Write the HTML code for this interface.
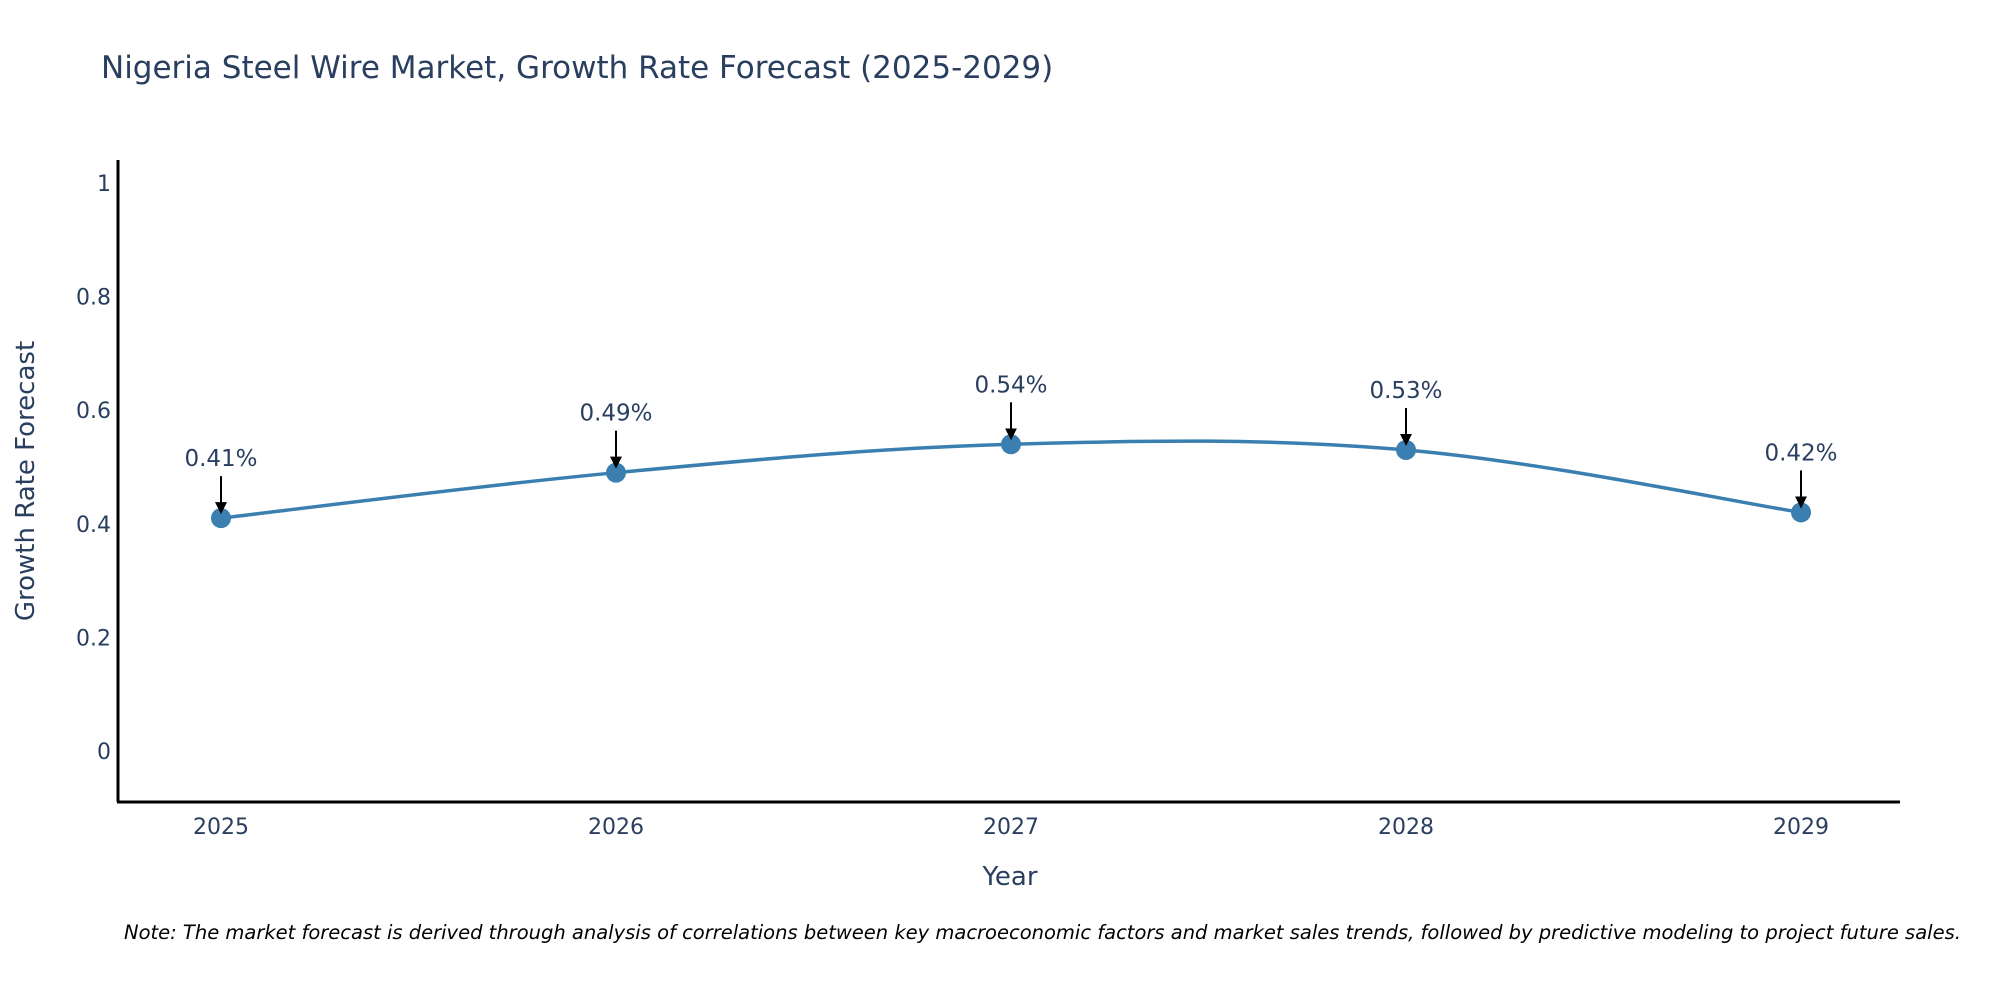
<!DOCTYPE html>
<html><head><meta charset="utf-8"><style>
html,body{margin:0;padding:0;background:#fff;}
svg text{font-family:"DejaVu Sans","Liberation Sans",sans-serif;}
</style></head><body>
<svg width="2000" height="1000" xmlns="http://www.w3.org/2000/svg">
<defs><marker id="ah" markerWidth="6" markerHeight="6" refX="5" refY="3" orient="auto" markerUnits="strokeWidth"><path d="M0,0 L6,3 L0,6 Z" fill="#000"/></marker></defs>
<text x="101" y="78" font-size="31" fill="#2a3f5f">Nigeria Steel Wire Market, Growth Rate Forecast (2025-2029)</text>
<g id="yticks"></g>
<g id="xticks"></g>
<line x1="118" y1="160" x2="118" y2="802" stroke="#000" stroke-width="3"/>
<line x1="117" y1="802" x2="1900" y2="802" stroke="#000" stroke-width="3"/>
<path id="line" fill="none" stroke="#3a7fb0" stroke-width="3.5"/>
<g id="marks"></g>
<g id="annos"></g>
<text x="1010" y="885" font-size="26" fill="#2a3f5f" text-anchor="middle">Year</text>
<text transform="translate(34,481) rotate(-90)" font-size="26" fill="#2a3f5f" text-anchor="middle">Growth Rate Forecast</text>
<text x="124" y="939" font-size="19.5" font-style="italic" fill="#000">Note: The market forecast is derived through analysis of correlations between key macroeconomic factors and market sales trends, followed by predictive modeling to project future sales.</text>
</svg>
<script>
const years = ["2025","2026","2027","2028","2029"];
const values = [0.41, 0.49, 0.54, 0.53, 0.42];
const labels = ["0.41%","0.49%","0.54%","0.53%","0.42%"];
const yTicks = [0, 0.2, 0.4, 0.6, 0.8, 1];
const yTickLabels = ["0","0.2","0.4","0.6","0.8","1"];
const NS="http://www.w3.org/2000/svg";
function xs(i){return 221+i*395;}
function ys(v){return 751-v*568;}
function mk(t,a,p){const e=document.createElementNS(NS,t);for(const k in a)e.setAttribute(k,a[k]);p.appendChild(e);return e;}
const yt=document.getElementById('yticks');
yTicks.forEach((v,i)=>{const t=mk('text',{x:111,y:ys(v)+8,'font-size':22,fill:'#2a3f5f','text-anchor':'end'},yt);t.textContent=yTickLabels[i];

});
const xt=document.getElementById('xticks');
years.forEach((y,i)=>{const t=mk('text',{x:xs(i),y:834,'font-size':22,fill:'#2a3f5f','text-anchor':'middle'},xt);t.textContent=y;

});
const pts=values.map((v,i)=>[xs(i),ys(v)]);
let d='M'+pts[0][0]+','+pts[0][1];
const s=0.35;
for(let i=0;i<pts.length-1;i++){
 const p0=pts[Math.max(0,i-1)],p1=pts[i],p2=pts[i+1],p3=pts[Math.min(pts.length-1,i+2)];
 const c1=[p1[0]+(p2[0]-p0[0])*s/2,p1[1]+(p2[1]-p0[1])*s/2];
 const c2=[p2[0]-(p3[0]-p1[0])*s/2,p2[1]-(p3[1]-p1[1])*s/2];
 d+=` C${c1[0]},${c1[1]} ${c2[0]},${c2[1]} ${p2[0]},${p2[1]}`;
}
document.getElementById('line').setAttribute('d',d);
const mg=document.getElementById('marks'),ag=document.getElementById('annos');
pts.forEach((p,i)=>{
 const c=mk('circle',{cx:p[0],cy:p[1],r:10,fill:'#3a7fb0'},mg);
 
 
 const l=mk('line',{x1:p[0],y1:p[1]-42,x2:p[0],y2:p[1]-6,stroke:'#000','stroke-width':2,'marker-end':'url(#ah)'},ag);
 
 
 const t=mk('text',{x:p[0],y:p[1]-52,'font-size':23,fill:'#2a3f5f','text-anchor':'middle'},ag);
 t.textContent=labels[i];
 
 
});
</script>
</body></html>
